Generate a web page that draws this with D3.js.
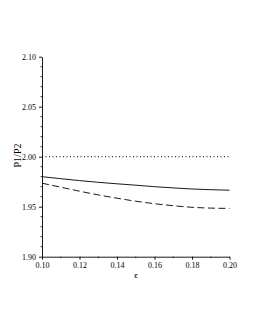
<!DOCTYPE html>
<html>
<head>
<meta charset="utf-8">
<script src="https://cdn.jsdelivr.net/npm/d3@7"></script>
<style>
  body { margin: 0; background: #fff; }
  svg text { font-family: "Liberation Serif", "DejaVu Serif", serif; fill: #000; }
</style>
</head>
<body>
<div id="chart"></div>
<script>
const eps = [0.10, 0.11, 0.12, 0.13, 0.14, 0.15, 0.16, 0.17, 0.18, 0.19, 0.20];
const solidRatio = [1.9800, 1.9780, 1.9761, 1.9744, 1.9729, 1.9715, 1.9700, 1.9688, 1.9677, 1.9670, 1.9665];
const dashedRatio = [1.9735, 1.9695, 1.9655, 1.9618, 1.9585, 1.9555, 1.9530, 1.9510, 1.9494, 1.9486, 1.9483];
const refLine = 2.00;
const xTicks = [0.10, 0.12, 0.14, 0.16, 0.18, 0.20];
const yTicks = [1.90, 1.95, 2.00, 2.05, 2.10];

function makeChart() {
    const width = 255,
        height = 330;

    let svg = d3.select('#chart').append('svg')
        .attr('width', width)
        .attr('height', height);

    const x = d3.scaleLinear().domain([0.10, 0.20]).range([42, 229.5]);
    const y = d3.scaleLinear().domain([1.90, 2.10]).range([256.7, 56.7]);

    // minor ticks
    let minorX = d3.range(0.11, 0.20, 0.02);
    let minorY = d3.range(1.91, 2.10, 0.01).filter(v => Math.abs(Math.round(v * 20) - v * 20) > 1e-6);

    svg.append('g')
        .selectAll('line')
        .data(minorX)
        .enter().append('line')
        .attr('x1', d => x(d)).attr('x2', d => x(d))
        .attr('y1', y(1.90)).attr('y2', y(1.90) + 1.5)
        .attr('stroke', '#000').attr('stroke-width', 0.8);

    svg.append('g')
        .selectAll('line')
        .data(minorY)
        .enter().append('line')
        .attr('x1', x(0.10) - 1.5).attr('x2', x(0.10))
        .attr('y1', d => y(d)).attr('y2', d => y(d))
        .attr('stroke', '#000').attr('stroke-width', 0.8);

    // axes
    let xAxis = svg.append('g')
        .attr('transform', 'translate(0,' + y(1.90) + ')')
        .call(d3.axisBottom(x).tickValues(xTicks).tickFormat(d3.format('.2f')).tickSize(3).tickSizeOuter(0).tickPadding(3));

    let yAxis = svg.append('g')
        .attr('transform', 'translate(' + x(0.10) + ',0)')
        .call(d3.axisLeft(y).tickValues(yTicks).tickFormat(d3.format('.2f')).tickSize(3).tickSizeOuter(0).tickPadding(3));

    [xAxis, yAxis].forEach(a => {
        a.attr('font-family', null);
        a.selectAll('text')
            .style('font-family', '"Liberation Serif", serif')
            .style('font-size', '8px')
            .style('fill', '#000');
        a.selectAll('line, path').attr('stroke', '#000').attr('stroke-width', 0.9);
    });

    // reference line
    svg.append('line')
        .attr('x1', x(0.10)).attr('x2', x(0.20))
        .attr('y1', y(refLine)).attr('y2', y(refLine))
        .attr('stroke', '#000')
        .attr('stroke-width', 1)
        .attr('stroke-dasharray', '1,2.5');

    let line = d3.line()
        .x((d, i) => x(eps[i]))
        .y(d => y(d))
        .curve(d3.curveMonotoneX);

    svg.append('path')
        .attr('d', line(solidRatio))
        .attr('fill', 'none')
        .attr('stroke', '#000')
        .attr('stroke-width', 0.9);

    svg.append('path')
        .attr('d', line(dashedRatio))
        .attr('fill', 'none')
        .attr('stroke', '#000')
        .attr('stroke-width', 0.9)
        .attr('stroke-dasharray', '7,3.5');

    // labels
    svg.append('text')
        .attr('transform', 'translate(21,155.5) rotate(-90)')
        .attr('text-anchor', 'middle')
        .style('font-size', '10px')
        .text('P1/P2');

    svg.append('text')
        .attr('x', 136)
        .attr('y', 278)
        .attr('text-anchor', 'middle')
        .style('font-size', '9px')
        .text('ϵ');
}

makeChart();
</script>
</body>
</html>
